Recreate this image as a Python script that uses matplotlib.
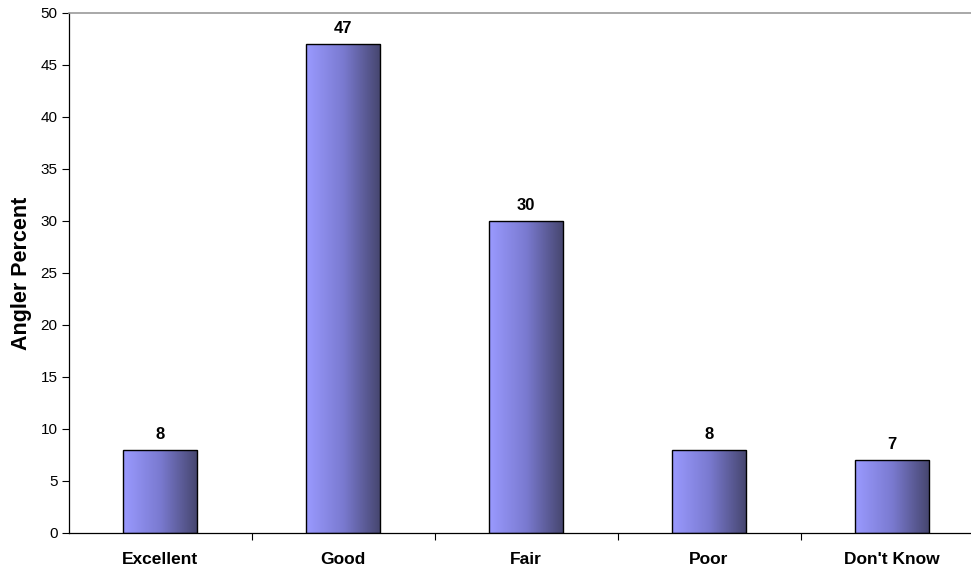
import numpy as np
import matplotlib
matplotlib.use("Agg")
import matplotlib.pyplot as plt
from matplotlib.colors import LinearSegmentedColormap

plt.rcParams['font.family'] = ['Liberation Sans', 'DejaVu Sans']

categories = ["Excellent", "Good", "Fair", "Poor", "Don't Know"]
values = [8, 47, 30, 8, 7]
y_ticks = [0, 5, 10, 15, 20, 25, 30, 35, 40, 45, 50]

fig = plt.figure(figsize=(9.71, 5.71), dpi=100)
ax = fig.add_axes([68.5 / 971, 1 - 533 / 571, 915 / 971, 520 / 571])

x = np.arange(len(categories))
width = 0.405
bars = ax.bar(x, values, width=width, facecolor='none', edgecolor='black',
              linewidth=1.0, zorder=3)

cmap = LinearSegmentedColormap.from_list('barfill', ['#9a9aff', '#7a7ad0', '#45456d'])
grad = np.linspace(0, 1, 256).reshape(1, -1)
for b, v in zip(bars, values):
    x0, y0 = b.get_x(), b.get_y()
    w, h = b.get_width(), b.get_height()
    im = ax.imshow(grad, cmap=cmap, aspect='auto', extent=[x0, x0 + w, y0, y0 + h],
                   zorder=2, interpolation='bilinear')
    im.set_clip_path(b)
    ax.text(x0 + w / 2, v + 0.75, f"{v}", ha='center', va='bottom',
            fontsize=12, fontweight='bold')

ax.set_xlim(-0.5, len(categories) - 0.5)
ax.set_ylim(0, 50)
ax.set_yticks(y_ticks)
ax.tick_params(axis='y', labelsize=11, length=5, width=0.8, direction='out', pad=3)

ax.set_xticks(x)
ax.set_xticklabels(categories, fontsize=12.5, fontweight='bold')
ax.tick_params(axis='x', length=0, pad=14)
ax.set_xticks(np.arange(0.5, len(categories) - 0.5, 1), minor=True)
ax.tick_params(axis='x', which='minor', length=5, width=0.8, direction='out')

ax.spines['right'].set_visible(False)
ax.spines['top'].set_color('#999999')
ax.spines['top'].set_linewidth(1.2)
ax.spines['left'].set_linewidth(0.9)
ax.spines['bottom'].set_linewidth(0.9)

ax.set_ylabel('Angler Percent', fontsize=15.5, fontweight='bold', labelpad=6)

fig.savefig('out.png', dpi=100)
